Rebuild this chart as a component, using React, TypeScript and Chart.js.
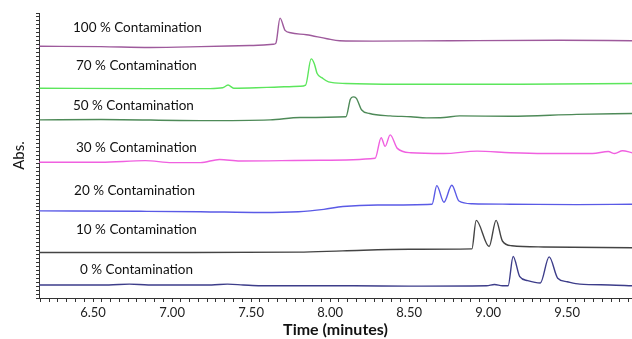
import React, { useEffect, useRef } from "react";
import { Chart, registerables } from "chart.js";

Chart.register(...registerables);

// ---- Data (time in minutes, stacked absorbance in arbitrary offset units) ----
const seriesNames = [
  "100 % Contamination",
  "70 % Contamination",
  "50 % Contamination",
  "30 % Contamination",
  "20 % Contamination",
  "10 % Contamination",
  "0 % Contamination",
];

const trace100: [number, number][] = [
  [6.16, 63.6], [6.55, 63.5], [6.86, 63.3], [7.18, 63.5], [7.49, 63.8], [7.64, 64.1],
  [7.657, 64.4], [7.683, 70.7], [7.715, 67.6], [7.75, 67.0], [7.85, 66.5], [7.98, 65.5],
  [8.06, 65.0], [8.27, 64.9], [8.76, 65.0], [9.45, 65.1], [9.91, 65.0],
];
const trace70: [number, number][] = [
  [6.16, 53.0], [6.86, 52.9], [7.24, 52.9], [7.32, 53.1], [7.354, 53.8], [7.39, 53.0],
  [7.6, 53.2], [7.81, 53.5], [7.845, 53.8], [7.88, 60.4], [7.9, 59.2], [7.917, 56.8],
  [7.95, 55.6], [7.99, 54.6], [8.1, 54.2], [8.44, 54.0], [9.2, 54.0], [9.91, 54.2],
];
const trace50: [number, number][] = [
  [6.16, 45.0], [6.55, 45.1], [7.18, 44.8], [7.62, 45.0], [7.81, 45.6], [8.1, 45.8],
  [8.128, 50.2], [8.145, 50.8], [8.165, 50.5], [8.2, 47.5], [8.25, 46.6], [8.38, 46.0],
  [8.51, 45.8], [8.61, 45.5], [8.72, 45.6], [8.82, 46.0], [9.14, 45.9], [9.56, 46.4],
  [9.91, 46.6],
];
const trace30: [number, number][] = [
  [6.16, 34.3], [6.55, 34.3], [6.83, 34.7], [7.0, 34.2], [7.18, 34.2], [7.3, 35.0],
  [7.43, 34.6], [7.94, 34.8], [8.285, 35.3], [8.323, 40.5], [8.348, 38.3], [8.38, 41.2],
  [8.425, 37.8], [8.51, 36.7], [8.72, 36.5], [8.93, 37.1], [9.14, 36.7], [9.35, 36.5],
  [9.66, 36.5], [9.76, 37.0], [9.8, 36.5], [9.85, 37.2], [9.91, 36.7],
];
const trace20: [number, number][] = [
  [6.16, 22.0], [6.8, 21.9], [7.18, 21.8], [7.56, 21.6], [7.8, 21.8], [7.96, 22.4],
  [8.08, 23.1], [8.3, 23.5], [8.645, 23.7], [8.675, 28.4], [8.72, 24.2], [8.77, 28.5],
  [8.815, 24.5], [8.9, 23.8], [9.14, 23.7], [9.56, 23.6], [9.91, 23.7],
];
const trace10: [number, number][] = [
  [6.16, 11.5], [7.0, 11.5], [7.8, 11.6], [8.08, 11.9], [8.5, 12.3], [8.897, 12.4],
  [8.924, 19.6], [9.006, 13.0], [9.05, 19.6], [9.09, 14.4], [9.15, 13.2], [9.35, 12.9],
  [9.91, 12.7],
];
const trace0: [number, number][] = [
  [6.16, 3.3], [6.6, 3.3], [6.73, 3.5], [6.85, 3.3], [7.25, 3.3], [7.35, 3.5],
  [7.45, 3.3], [7.56, 3.1], [8.15, 3.1], [8.5, 3.0], [8.99, 3.1], [9.04, 3.4],
  [9.09, 3.1], [9.126, 3.1], [9.158, 10.5], [9.2, 5.4], [9.25, 4.4], [9.33, 3.8],
  [9.386, 10.4], [9.44, 5.0], [9.5, 4.1], [9.58, 3.5], [9.77, 3.3], [9.91, 3.1],
];

const traces = [trace100, trace70, trace50, trace30, trace20, trace10, trace0];
const traceColors = ["#9e5a9c", "#5ce65c", "#4e8a58", "#f060e0", "#5a5ae6", "#444444", "#3d3d8a"];

// Label anchors (time, level) for the series names
const labelTimes = [6.373, 6.392, 6.373, 6.392, 6.38, 6.392, 6.417];
const labelLevels = [68.4, 58.6, 48.5, 38.1, 27.0, 17.2, 7.1];

// Axis settings
const xMin = 6.158;
const xMax = 9.91;
const xTickLabels = [6.5, 7.0, 7.5, 8.0, 8.5, 9.0, 9.5];
const xMinorPerMajor = 9;
const yMin = 0;
const yMax = 72;

const labelPlugin = {
  id: "seriesLabels",
  afterDatasetsDraw(chart: any) {
    const { ctx, scales } = chart;
    ctx.save();
    ctx.font = "13.5px Lato, 'Open Sans', sans-serif";
    ctx.fillStyle = "#111";
    ctx.textAlign = "left";
    ctx.textBaseline = "middle";
    seriesNames.forEach((name, i) => {
      const px = scales.x.getPixelForValue(labelTimes[i]);
      const py = scales.y.getPixelForValue(labelLevels[i]);
      ctx.fillText(name, px, py);
    });
    ctx.restore();
  },
};

export default function App() {
  const ref = useRef<HTMLCanvasElement | null>(null);

  useEffect(() => {
    if (!ref.current) return;
    const step = 0.5 / xMinorPerMajor;
    const chart = new Chart(ref.current, {
      type: "line",
      data: {
        datasets: traces.map((tr, i) => ({
          label: seriesNames[i],
          data: tr.map(([x, y]) => ({ x, y })),
          borderColor: traceColors[i],
          borderWidth: 1.4,
          pointRadius: 0,
          fill: false,
          cubicInterpolationMode: "monotone" as const,
        })),
      },
      options: {
        animation: false,
        responsive: true,
        maintainAspectRatio: false,
        layout: { padding: { top: 13, left: 0, right: 0, bottom: 0 } },
        plugins: { legend: { display: false }, tooltip: { enabled: false } },
        scales: {
          x: {
            type: "linear",
            min: xMin,
            max: xMax,
            afterBuildTicks: (scale: any) => {
              const vals: number[] = [];
              const start = xTickLabels[0];
              for (let k = -Math.floor((start - xMin) / step); start + k * step <= xMax + 1e-9; k++) {
                vals.push(+(start + k * step).toFixed(6));
              }
              scale.ticks = vals.map((v) => ({ value: v }));
            },
            afterFit: (scale: any) => {
              scale.height = 41;
            },
            grid: { drawOnChartArea: false, drawTicks: true, tickLength: 4, color: "#333" },
            border: { display: true, color: "#333", width: 1 },
            ticks: {
              autoSkip: false,
              maxRotation: 0,
              padding: 3,
              color: "#222",
              font: { family: "Lato, 'Open Sans', sans-serif", size: 13 },
              callback: (v: any) => {
                const n = Number(v);
                const hit = xTickLabels.find((t) => Math.abs(t - n) < 1e-4);
                return hit !== undefined ? hit.toFixed(2) : "";
              },
            },
            title: {
              display: true,
              text: "Time (minutes)",
              color: "#111",
              font: { family: "Lato, 'Open Sans', sans-serif", size: 16, weight: "bold" },
              padding: { top: 0, bottom: 0 },
            },
          },
          y: {
            type: "linear",
            min: yMin,
            max: yMax,
            afterBuildTicks: (scale: any) => {
              const vals: number[] = [];
              for (let v = yMin; v <= yMax; v += 1) vals.push(v);
              scale.ticks = vals.map((v) => ({ value: v }));
            },
            afterFit: (scale: any) => {
              scale.width = 39;
            },
            grid: { drawOnChartArea: false, drawTicks: true, tickLength: 3, color: "#333" },
            border: { display: true, color: "#333", width: 1 },
            ticks: {
              autoSkip: false,
              font: { size: 4 },
              callback: () => "",
            },
            title: {
              display: true,
              text: "Abs.",
              color: "#111",
              font: { family: "Lato, 'Open Sans', sans-serif", size: 15 },
              padding: { top: 10, bottom: 0 },
            },
          },
        },
      },
      plugins: [labelPlugin],
    });
    return () => chart.destroy();
  }, []);

  return (
    <div style={{ position: "absolute", left: 0, top: 0, width: 632, height: 339, background: "#fff" }}>
      <canvas ref={ref} />
    </div>
  );
}
